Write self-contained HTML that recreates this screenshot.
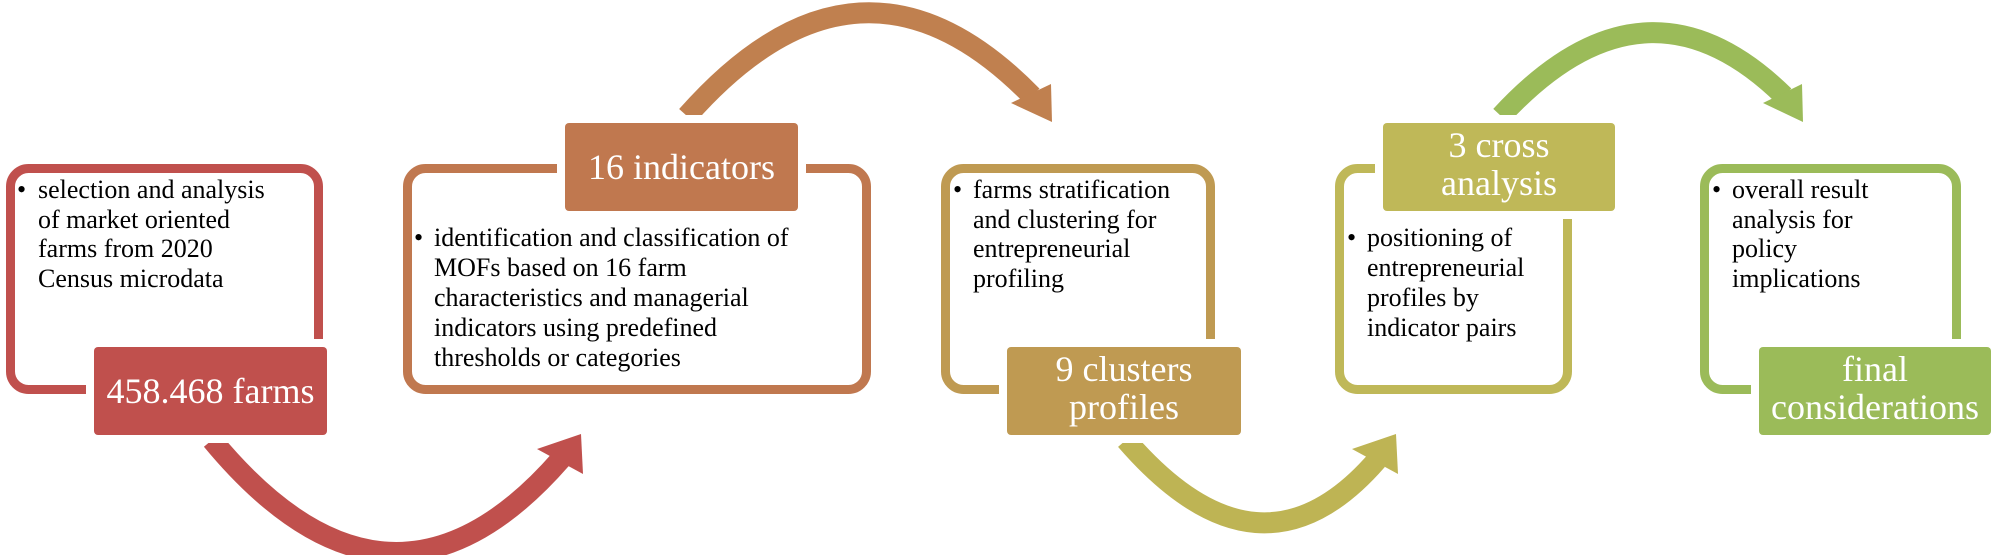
<!DOCTYPE html>
<html><head><meta charset="utf-8"><style>
html,body{margin:0;padding:0;background:#fff;font-family:"Liberation Serif",serif;}
svg{display:block;}
svg text{font-family:"Liberation Serif","DejaVu Serif",serif;}
.b{font-size:26px;fill:#000;}
.l{font-size:36px;fill:#fff;text-anchor:middle;}
</style></head><body>
<svg width="2008" height="555" viewBox="0 0 2008 555" xmlns="http://www.w3.org/2000/svg" font-family="Liberation Serif, serif">
<path d="M212,440 Q390,655 561,459" fill="none" stroke="#C0504D" stroke-width="21"/>
<polygon points="581,434 537,449 583,474" fill="#C0504D"/>
<path d="M687,116 Q860,-80 1032,96" fill="none" stroke="#C0804F" stroke-width="21"/>
<polygon points="1052,122 1011,103 1051,84" fill="#C0804F"/>
<path d="M1126,440 Q1260,595 1377,460" fill="none" stroke="#BEB454" stroke-width="21"/>
<polygon points="1396,434 1352,449 1398,474" fill="#BEB454"/>
<path d="M1501,116 Q1645,-40 1784,96" fill="none" stroke="#9BBB59" stroke-width="21"/>
<polygon points="1803,122 1763,103 1802,84" fill="#9BBB59"/>

<rect x="10.5" y="168.5" width="308" height="221" rx="18" fill="#fff" stroke="#C0504D" stroke-width="9"/>
<rect x="407.5" y="168.5" width="459" height="221" rx="18" fill="#fff" stroke="#C0784F" stroke-width="9"/>
<rect x="945.5" y="168.5" width="265" height="221" rx="18" fill="#fff" stroke="#BF9A52" stroke-width="9"/>
<rect x="1339.5" y="168.5" width="228" height="221" rx="18" fill="#fff" stroke="#BFB858" stroke-width="9"/>
<rect x="1704.5" y="168.5" width="252" height="221" rx="18" fill="#fff" stroke="#9BBB59" stroke-width="9"/>

<rect x="94" y="347" width="233" height="88" rx="4" fill="#C0504D" stroke="#fff" stroke-width="16" paint-order="stroke"/>
<rect x="565" y="123" width="233" height="88" rx="4" fill="#C0784F" stroke="#fff" stroke-width="16" paint-order="stroke"/>
<rect x="1007" y="347" width="234" height="88" rx="4" fill="#BF9A52" stroke="#fff" stroke-width="16" paint-order="stroke"/>
<rect x="1383" y="123" width="232" height="88" rx="4" fill="#BFB858" stroke="#fff" stroke-width="16" paint-order="stroke"/>
<rect x="1759" y="347" width="232" height="88" rx="4" fill="#9BBB59" stroke="#fff" stroke-width="16" paint-order="stroke"/>

<text class="l" x="210.5" y="403" font-family="Liberation Serif, serif">458.468 farms</text>
<text class="l" x="681.5" y="179" font-family="Liberation Serif, serif">16 indicators</text>
<text class="l" x="1124" y="381" font-family="Liberation Serif, serif">9 clusters</text>
<text class="l" x="1124" y="419" font-family="Liberation Serif, serif">profiles</text>
<text class="l" x="1499" y="157" font-family="Liberation Serif, serif">3 cross</text>
<text class="l" x="1499" y="195" font-family="Liberation Serif, serif">analysis</text>
<text class="l" x="1875" y="381" font-family="Liberation Serif, serif">final</text>
<text class="l" x="1875" y="419" font-family="Liberation Serif, serif">considerations</text>

<g font-family="Liberation Serif, serif">
<text class="b" x="17" y="198">•</text>
<text class="b" x="38" y="198">selection and analysis</text>
<text class="b" x="38" y="228">of market oriented</text>
<text class="b" x="38" y="257">farms from 2020</text>
<text class="b" x="38" y="287">Census microdata</text>

<text class="b" x="414" y="246">•</text>
<text class="b" x="434" y="246">identification and classification of</text>
<text class="b" x="434" y="276">MOFs based on 16 farm</text>
<text class="b" x="434" y="306">characteristics and managerial</text>
<text class="b" x="434" y="336">indicators using predefined</text>
<text class="b" x="434" y="366">thresholds or categories</text>

<text class="b" x="953" y="198">•</text>
<text class="b" x="973" y="198">farms stratification</text>
<text class="b" x="973" y="228">and clustering for</text>
<text class="b" x="973" y="257">entrepreneurial</text>
<text class="b" x="973" y="287">profiling</text>

<text class="b" x="1347" y="246">•</text>
<text class="b" x="1367" y="246">positioning of</text>
<text class="b" x="1367" y="276">entrepreneurial</text>
<text class="b" x="1367" y="306">profiles by</text>
<text class="b" x="1367" y="336">indicator pairs</text>

<text class="b" x="1712" y="198">•</text>
<text class="b" x="1732" y="198">overall result</text>
<text class="b" x="1732" y="228">analysis for</text>
<text class="b" x="1732" y="257">policy</text>
<text class="b" x="1732" y="287">implications</text>
</g>
</svg>
</body></html>
